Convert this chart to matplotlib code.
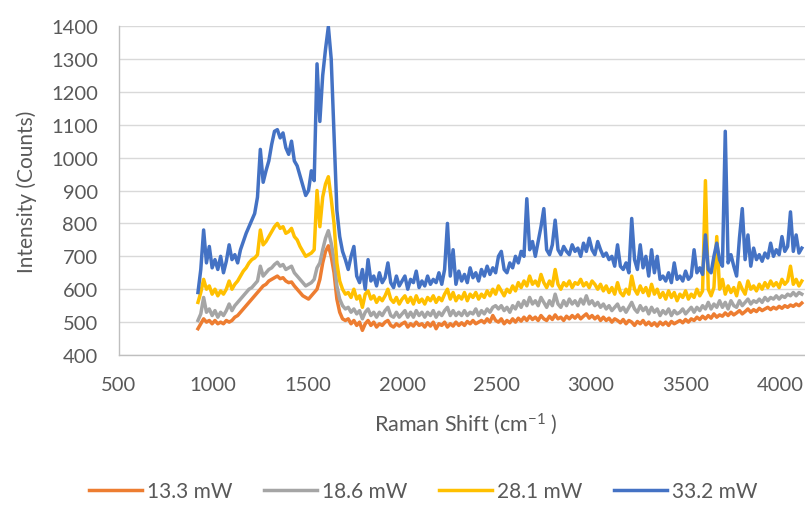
import numpy as np
import matplotlib
matplotlib.use("Agg")
import matplotlib.pyplot as plt

plt.rcParams['font.family'] = ['Lato', 'DejaVu Sans']
plt.rcParams['mathtext.fontset'] = 'custom'
plt.rcParams['mathtext.rm'] = 'Lato'
plt.rcParams['mathtext.it'] = 'Lato:italic'

# Raman shift axis (cm-1), sampled every 15 cm-1
shift = np.arange(920, 4120, 15)

# intensities (counts)
p_13_3 = [
    480, 495, 510, 500, 505, 495, 505, 495, 500, 495,
    505, 500, 505, 515, 520, 530, 540, 550, 560, 570,
    580, 590, 600, 610, 615, 625, 630, 635, 640, 632,
    635, 625, 620, 622, 610, 600, 590, 580, 575, 570,
    580, 590, 600, 630, 680, 715, 732, 700, 650, 570,
    530, 510, 505, 510, 495, 505, 490, 500, 475, 495,
    505, 490, 500, 485, 495, 490, 500, 505, 490, 485,
    495, 488, 495, 500, 485, 495, 488, 500, 490, 495,
    485, 498, 488, 500, 480, 495, 490, 500, 485, 495,
    488, 500, 490, 498, 490, 502, 495, 505, 495, 500,
    505, 498, 510, 500, 520, 505, 500, 510, 495, 505,
    498, 510, 500, 512, 503, 515, 505, 518, 508, 515,
    505, 520, 510, 505, 518, 508, 522, 510, 515, 505,
    518, 510, 520, 512, 522, 510, 518, 525, 512, 520,
    510, 518, 505, 515, 505, 512, 500, 510, 505, 498,
    508, 495, 505, 500, 490, 502, 495, 505, 492, 500,
    490, 498, 488, 500, 492, 500, 490, 502, 495, 500,
    505, 498, 508, 500, 510, 505, 515, 508, 518, 510,
    520, 512, 525, 515, 522, 518, 528, 520, 530, 522,
    528, 535, 525, 532, 540, 530, 538, 532, 542, 535,
    540, 545, 538, 545, 540, 548, 542, 550, 545, 552,
    548, 555, 550, 558,
]

p_18_6 = [
    505, 525, 575, 530, 540, 520, 535, 515, 530, 520,
    535, 555, 535, 550, 560, 570, 580, 590, 600, 605,
    615, 625, 670, 640, 650, 660, 665, 675, 682, 670,
    675, 660, 665, 670, 650, 640, 630, 620, 610, 615,
    620, 630, 665, 680, 720, 755, 778, 740, 690, 610,
    570, 550, 540, 545, 530, 540, 525, 535, 510, 530,
    540, 520, 530, 515, 530, 520, 535, 545, 520, 515,
    530, 515, 525, 535, 515, 530, 515, 535, 520, 530,
    515, 530, 520, 535, 515, 530, 520, 535, 545, 520,
    535, 520, 530, 520, 535, 520, 530, 525, 540, 520,
    535, 525, 540, 530, 545, 550, 540, 550, 535, 545,
    530, 550, 540, 560, 545, 565, 550, 575, 555, 565,
    550, 575, 560, 545, 565, 550, 585, 555, 545, 565,
    550, 570, 555, 565, 550, 570, 555, 580, 555, 565,
    550, 560, 545, 555, 540, 550, 535, 545, 555, 535,
    545, 530, 545, 560, 540, 530, 550, 535, 545, 525,
    545, 530, 540, 520, 535, 525, 540, 520, 535, 525,
    530, 540, 525, 535, 545, 530, 545, 535, 550, 540,
    560, 540, 555, 545, 565, 545, 560, 540, 565, 550,
    545, 565, 550, 560, 570, 555, 565, 560, 570, 560,
    575, 565, 575, 570, 580, 570, 580, 575, 585, 580,
    590, 580, 590, 585,
]

p_28_1 = [
    560, 590, 630, 600, 610, 585, 600, 580, 595, 585,
    600, 625, 600, 615, 625, 640, 655, 665, 680, 690,
    695, 705, 780, 735, 745, 760, 775, 790, 800, 785,
    790, 770, 775, 785, 760, 750, 730, 715, 700, 705,
    710, 720, 900, 790, 880, 920, 942, 875, 800, 680,
    625, 600, 585, 590, 575, 600, 570, 580, 545, 585,
    595, 570, 580, 560, 575, 565, 580, 600, 570, 560,
    575, 555, 570, 580, 560, 575, 555, 580, 560, 570,
    555, 575, 565, 580, 560, 575, 565, 585, 600, 570,
    590, 565, 580, 570, 590, 565, 585, 575, 590, 570,
    585, 575, 595, 580, 600, 585, 610, 595, 580, 600,
    590, 610, 595, 620, 605, 625, 610, 640, 615, 625,
    610, 645, 620, 605, 625, 610, 660, 615, 600, 620,
    610, 625, 605, 620, 615, 630, 610, 620, 605, 625,
    615, 600, 615, 595, 610, 590, 605, 585, 620, 590,
    580, 600, 585, 640, 600, 585, 610, 590, 605, 580,
    615, 585, 600, 575, 590, 570, 595, 575, 590, 565,
    585, 575, 595, 570, 585, 575, 600, 580, 595, 930,
    600, 580, 605, 760, 600, 630, 585, 610, 590, 605,
    580, 620, 600, 585, 625, 600, 610, 595, 615, 600,
    620, 605, 625, 610, 620, 605, 630, 615, 625, 670,
    615, 630, 610, 625,
]

p_33_2 = [
    590, 660, 780, 680, 730, 665, 690, 660, 700, 650,
    685, 735, 690, 705, 680, 720, 745, 770, 790, 810,
    830, 880, 1025, 925, 960, 990, 1040, 1080, 1085, 1060,
    1075, 1030, 1010, 1050, 990, 975, 945, 915, 885, 900,
    960, 930, 1285, 1110, 1250, 1330, 1398, 1300, 1070, 840,
    760, 715, 690, 660, 700, 730, 640, 620, 660, 600,
    690, 625, 640, 610, 650, 620, 635, 680, 620, 605,
    640, 610, 625, 640, 600, 630, 620, 655, 605, 625,
    610, 640, 615, 630, 620, 650, 615, 660, 800, 640,
    720, 615, 655, 625, 645, 620, 665, 635, 650, 625,
    660, 640, 670, 645, 665, 650, 700, 715, 660, 650,
    680, 665, 700, 680, 715, 700, 875, 720, 745, 700,
    745, 790, 845, 720, 705, 735, 810, 720, 705, 730,
    715, 705, 735, 715, 725, 700, 740, 715, 755, 720,
    705, 745, 720, 700, 710, 690, 700, 670, 735, 670,
    660, 680, 650, 815, 690, 660, 735, 665, 700, 640,
    720, 650, 700, 630, 640, 625, 650, 620, 680, 630,
    640, 625, 655, 630, 640, 720, 650, 665, 645, 765,
    660, 650, 700, 740, 690, 670, 1080, 680, 705, 670,
    640, 755, 845, 690, 765, 670, 725, 690, 705, 685,
    710, 695, 740, 700, 720, 705, 760, 715, 730, 835,
    715, 765, 710, 725,
]

labels = ['13.3 mW', '18.6 mW', '28.1 mW', '33.2 mW']
colors = ['#ED7D31', '#A5A5A5', '#FFC000', '#4472C4']
text_col = '#595959'

fig = plt.figure(figsize=(8.05, 5.06), dpi=100)
ax = fig.add_axes([0.1473, 0.2964, 0.8640, 0.6502])

for y, lab, c in zip([p_13_3, p_18_6, p_28_1, p_33_2], labels, colors):
    ax.plot(shift, y, color=c, lw=2.5, label=lab, solid_joinstyle='round')

ax.set_xlim(500, 4180)
ax.set_ylim(400, 1400)
ax.set_xticks(range(500, 4001, 500))
ax.set_yticks(range(400, 1401, 100))
ax.grid(axis='y', color='#D9D9D9', lw=1)
ax.set_axisbelow(True)
for s in ['top', 'right']:
    ax.spines[s].set_visible(False)
for s in ['left', 'bottom']:
    ax.spines[s].set_color('#BFBFBF')
    ax.spines[s].set_linewidth(1)
ax.tick_params(length=0, pad=15, labelsize=14.5, labelcolor=text_col)

ax.set_xlabel('Raman Shift (cm$^{-1}$ )', fontsize=15.5, color=text_col, labelpad=13)
ax.set_ylabel('Intensity (Counts)', fontsize=15, color=text_col, labelpad=10)

fig.legend(loc='center', bbox_to_anchor=(423 / 805, 1 - 492 / 506), ncol=4,
           frameon=False, fontsize=15, labelcolor=text_col,
           handlelength=2.55, handletextpad=0.25, columnspacing=1.5)

fig.savefig('out.png', dpi=100)
